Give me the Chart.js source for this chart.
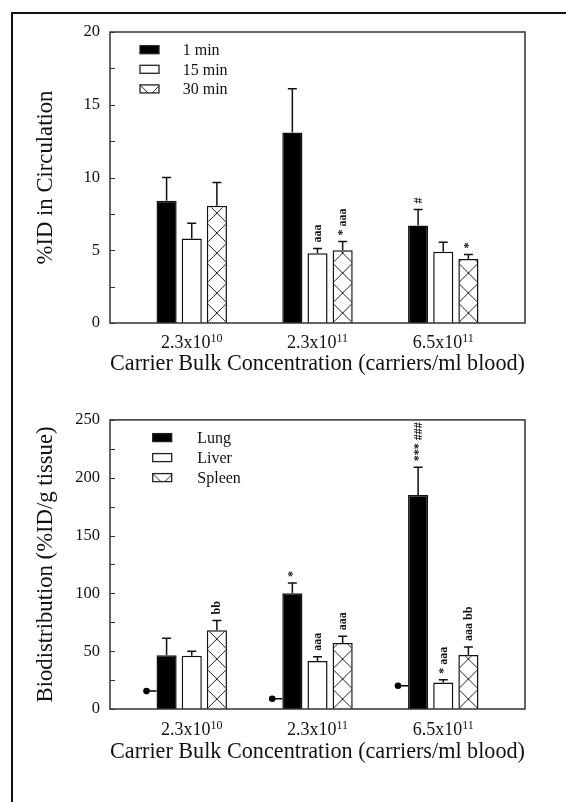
<!DOCTYPE html>
<html><head><meta charset="utf-8">
<script src="https://cdn.jsdelivr.net/npm/chart.js@4/dist/chart.umd.min.js"></script>
<style>
html,body{margin:0;padding:0;background:#fff;}
body{width:566px;height:802px;position:relative;overflow:hidden;}
#frame{position:absolute;left:11px;top:12px;width:600px;height:800px;border-top:2px solid #111;border-left:2px solid #111;}
.wrap{position:absolute;left:0;width:566px;}
#w1{top:0;height:400px;} #w2{top:400px;height:402px;}
canvas{display:block;}
</style></head><body>
<div id="frame"></div>
<div class="wrap" id="w1"><canvas id="c1" width="566" height="400"></canvas></div>
<div class="wrap" id="w2"><canvas id="c2" width="566" height="402"></canvas></div>
<script>
// ---- data ----
const concentrationBase = ['2.3x10', '2.3x10', '6.5x10'];
const concentrationExp = ['10', '11', '11'];
const groupPositions = [0, 1, 2];
const xAxisTitle = 'Carrier Bulk Concentration (carriers/ml blood)';

const circulationTitle = '%ID in Circulation';
const circulationSeries = ['1 min', '15 min', '30 min'];
const circulation1min = [8.4, 13.1, 6.7];
const circulation1minErr = [1.6, 3.0, 1.1];
const circulation15min = [5.8, 4.8, 4.9];
const circulation15minErr = [1.05, 0.32, 0.65];
const circulation30min = [8.05, 5.0, 4.4];
const circulation30minErr = [1.6, 0.6, 0.3];
const circulation1minMarks = ['', '', '#'];
const circulation15minMarks = ['', 'aaa', ''];
const circulation30minMarks = ['', '* aaa', '*'];
const circulationTicks = [0, 5, 10, 15, 20];

const biodistributionTitle = 'Biodistribution (%ID/g tissue)';
const organSeries = ['Lung', 'Liver', 'Spleen'];
const lung = [46.5, 100, 185];
const lungErr = [14.6, 8.9, 24.1];
const liver = [46, 41.6, 23];
const liverErr = [4, 3.5, 2.3];
const spleen = [68, 57.1, 46.8];
const spleenErr = [8.6, 5.8, 6.9];
const lungMarks = ['', '*', '*** ###'];
const liverMarks = ['', 'aaa', '* aaa'];
const spleenMarks = ['bb', 'aaa', 'aaa bb'];
const lungReference = [15.5, 8.9, 20.1];
const biodistributionTicks = [0, 50, 100, 150, 200, 250];

// ---- styling helpers ----
const FONT = '"Liberation Serif", "Times New Roman", serif';
const INK = '#111';
const CAT_PCT = 0.6, BAR_PCT = 0.8;

function makeTile() {
  const c = document.createElement('canvas');
  c.width = 20; c.height = 20;
  const g = c.getContext('2d');
  g.fillStyle = '#fff'; g.fillRect(0, 0, 20, 20);
  g.strokeStyle = '#222'; g.lineWidth = 1;
  g.beginPath();
  g.moveTo(-2, -2); g.lineTo(22, 22);
  g.moveTo(22, -2); g.lineTo(-2, 22);
  g.stroke();
  return c;
}
const tile = makeTile();

function hatchFill(c) {
  const chart = c.chart;
  const p = chart.ctx.createPattern(tile, 'repeat');
  const xs = chart.scales && chart.scales.x, ys = chart.scales && chart.scales.y;
  if (xs && ys && c.dataIndex !== undefined) {
    const unit = xs.getPixelForValue(1) - xs.getPixelForValue(0);
    const slot = unit * CAT_PCT / 3, bw = slot * BAR_PCT;
    const left = xs.getPixelForValue(groupPositions[c.dataIndex]) + slot - bw / 2;
    const bottom = ys.getPixelForValue(0);
    if (isFinite(left) && isFinite(bottom)) p.setTransform(new DOMMatrix([1, 0, 0, 1, left, bottom]));
  }
  return p;
}

const figPlugin = {
  id: 'fig',
  afterDatasetsDraw(chart, args, o) {
    const ctx = chart.ctx, ys = chart.scales.y;
    ctx.save();
    chart.data.datasets.forEach((ds, di) => {
      if (!ds.errors) return;
      const meta = chart.getDatasetMeta(di);
      meta.data.forEach((bar, i) => {
        const v = ds.data[i].y, e = ds.errors[i];
        const x = bar.x, yb = ys.getPixelForValue(v), yt = ys.getPixelForValue(v + e);
        ctx.strokeStyle = INK; ctx.lineWidth = 1.5;
        ctx.beginPath();
        ctx.moveTo(x, yb); ctx.lineTo(x, yt);
        ctx.moveTo(x - 4.5, yt); ctx.lineTo(x + 4.5, yt);
        ctx.stroke();
        const m = ds.marks && ds.marks[i];
        if (m) {
          ctx.save();
          ctx.translate(x + 0.5, yt - o.markGap);
          ctx.rotate(-Math.PI / 2);
          ctx.font = 'bold 12px ' + FONT;
          ctx.fillStyle = INK; ctx.textAlign = 'left'; ctx.textBaseline = 'middle';
          ctx.fillText(m, 0, 0);
          ctx.restore();
        }
      });
    });
    ctx.restore();
  },
  afterDraw(chart, args, o) {
    const ctx = chart.ctx, ca = chart.chartArea, xs = chart.scales.x, ys = chart.scales.y;
    ctx.save();
    // frame
    ctx.strokeStyle = '#333'; ctx.lineWidth = 1.5;
    ctx.strokeRect(ca.left, ca.top, ca.right - ca.left, ca.bottom - ca.top);
    // inward ticks (major + minor)
    ctx.beginPath();
    for (let v = ys.min; v <= ys.max + 1e-9; v += o.minorStep) {
      const y = Math.round(ys.getPixelForValue(v)) + 0.5;
      ctx.moveTo(ca.left, y); ctx.lineTo(ca.left + 5, y);
    }
    ctx.lineWidth = 1.2; ctx.stroke();
    // x tick labels with superscripts
    ctx.fillStyle = INK; ctx.textBaseline = 'alphabetic'; ctx.textAlign = 'left';
    groupPositions.forEach((g, i) => {
      const x = xs.getPixelForValue(g);
      ctx.font = '18px ' + FONT;
      const w1 = ctx.measureText(concentrationBase[i]).width;
      ctx.font = '12px ' + FONT;
      const w2 = ctx.measureText(concentrationExp[i]).width;
      const sx = x - (w1 + w2) / 2, by = ca.bottom + o.tickBaseline;
      ctx.font = '18px ' + FONT;
      ctx.fillText(concentrationBase[i], sx, by);
      ctx.font = '12px ' + FONT;
      ctx.fillText(concentrationExp[i], sx + w1, by - 6.5);
    });
    // legend inside plot
    let k = 0;
    chart.data.datasets.forEach((ds) => {
      if (ds.type === 'line') return;
      const y = ca.top + o.legend.dy + k * o.legend.step;
      const bx = ca.left + o.legend.dx, bw = 19, bh = 8;
      if (ds.hatched) {
        const p = ctx.createPattern(tile, 'repeat');
        p.setTransform(new DOMMatrix([1, 0, 0, 1, bx, y - bh / 2]));
        ctx.fillStyle = p;
      } else {
        ctx.fillStyle = ds.legendFill;
      }
      ctx.fillRect(bx, y - bh / 2, bw, bh);
      ctx.strokeStyle = '#222'; ctx.lineWidth = 1.3;
      ctx.strokeRect(bx, y - bh / 2, bw, bh);
      ctx.fillStyle = INK; ctx.font = '16px ' + FONT; ctx.textBaseline = 'middle';
      ctx.fillText(ds.label, ca.left + o.legend.textDx, y + 1);
      k++;
    });
    ctx.restore();
  }
};

function barSet(label, values, errors, marks, kind) {
  return {
    label,
    data: values.map((v, i) => ({ x: groupPositions[i], y: v })),
    errors, marks,
    hatched: kind === 'hatch',
    legendFill: kind === 'solid' ? '#000' : '#fff',
    backgroundColor: kind === 'solid' ? '#000' : (kind === 'hatch' ? hatchFill : '#fff'),
    borderColor: '#111',
    borderWidth: 1.5,
    barPercentage: BAR_PCT,
    categoryPercentage: CAT_PCT
  };
}

function makeChart(id, spec) {
  const datasets = spec.series.map((s) => barSet(s.label, s.values, s.errors, s.marks, s.kind));
  if (spec.reference) {
    const pts = [];
    spec.reference.forEach((v, i) => {
      pts.push({ x: groupPositions[i] - 0.36, y: v });
      pts.push({ x: groupPositions[i] - 0.28, y: v });
      pts.push({ x: groupPositions[i] - 0.28, y: null });
    });
    datasets.push({
      type: 'line', label: 'reference', data: pts,
      borderColor: '#000', borderWidth: 1.5, spanGaps: false,
      pointRadius: (c) => (c.dataIndex % 3 === 0 ? 3.3 : 0),
      pointBackgroundColor: '#000', pointBorderColor: '#000', pointBorderWidth: 0
    });
  }
  return new Chart(document.getElementById(id), {
    type: 'bar',
    data: { datasets },
    plugins: [figPlugin],
    options: {
      responsive: false, animation: false, events: [],
      layout: { padding: { left: 0, right: 41, top: spec.padTop, bottom: 0 } },
      plugins: {
        legend: { display: false }, tooltip: { enabled: false },
        fig: { minorStep: spec.minorStep, tickBaseline: spec.tickBaseline, markGap: 6, legend: spec.legend }
      },
      scales: {
        x: {
          type: 'linear', min: -0.65, max: 2.65, offset: false,
          grid: { display: false, drawTicks: false }, border: { display: false },
          ticks: { display: false },
          afterBuildTicks: (s) => { s.ticks = groupPositions.map((v) => ({ value: v })); },
          afterFit: (s) => { s.height = spec.xHeight; },
          title: { display: true, text: xAxisTitle, color: INK, font: { family: FONT, size: 22.7 }, padding: { top: 0, bottom: spec.xTitlePad } }
        },
        y: {
          min: 0, max: spec.ticks[spec.ticks.length - 1],
          grid: { display: false, drawTicks: false }, border: { display: false },
          afterBuildTicks: (s) => { s.ticks = spec.ticks.map((v) => ({ value: v })); },
          afterFit: (s) => { s.width = 110; },
          ticks: { padding: 10, color: INK, font: { family: FONT, size: 16.5 } },
          title: { display: true, text: spec.yTitle, color: INK, font: { family: FONT, size: 22.7 }, padding: { top: 32.4, bottom: 0 } }
        }
      }
    }
  });
}

makeChart('c1', {
  series: [
    { label: circulationSeries[0], values: circulation1min, errors: circulation1minErr, marks: circulation1minMarks, kind: 'solid' },
    { label: circulationSeries[1], values: circulation15min, errors: circulation15minErr, marks: circulation15minMarks, kind: 'open' },
    { label: circulationSeries[2], values: circulation30min, errors: circulation30minErr, marks: circulation30minMarks, kind: 'hatch' }
  ],
  ticks: circulationTicks, minorStep: 2.5, yTitle: circulationTitle,
  padTop: 32, xHeight: 77, xTitlePad: 22, tickBaseline: 25,
  legend: { dx: 30, dy: 17.7, step: 19.6, textDx: 72.7 }
});

makeChart('c2', {
  series: [
    { label: organSeries[0], values: lung, errors: lungErr, marks: lungMarks, kind: 'solid' },
    { label: organSeries[1], values: liver, errors: liverErr, marks: liverMarks, kind: 'open' },
    { label: organSeries[2], values: spleen, errors: spleenErr, marks: spleenMarks, kind: 'hatch' }
  ],
  reference: lungReference,
  ticks: biodistributionTicks, minorStep: 25, yTitle: biodistributionTitle,
  padTop: 19, xHeight: 93, xTitlePad: 36, tickBaseline: 26,
  legend: { dx: 42.7, dy: 17.7, step: 20, textDx: 87.3 }
});
</script>
</body></html>
